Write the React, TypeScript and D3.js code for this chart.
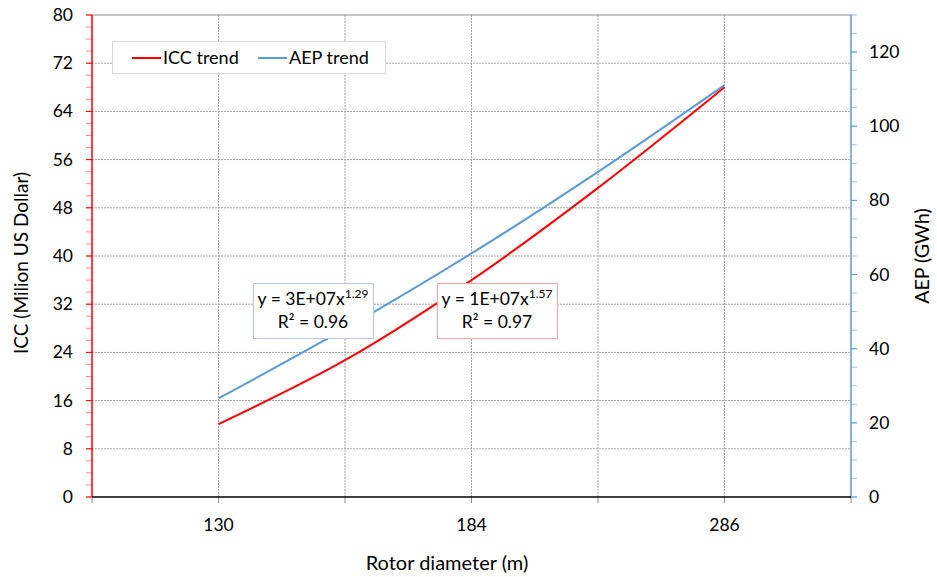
import React from "react";
import * as d3 from "d3";

const xIndex = [1, 2, 3, 4, 5];
const iccValues = [12.1, 22.7, 36.0, 51.3, 68.0];
const aepValues = [26.6, 45.4, 65.7, 87.7, 111.1];
const xTickPositions = [1, 3, 5];
const xTickLabels = ["130", "184", "286"];
const leftTicks = [0, 8, 16, 24, 32, 40, 48, 56, 64, 72, 80];
const rightTicks = [0, 20, 40, 60, 80, 100, 120];

const W = 937, H = 577;
const L = 92, R = 851, T = 15, B = 497;
const FONT = "Lato, 'Open Sans', sans-serif";
const RED = "#ff0000";
const BLUE = "#5b9bd5";

export default function App() {
  const x = d3.scaleLinear().domain([0, 6]).range([L, R]);
  const yL = d3.scaleLinear().domain([0, 80]).range([B, T]);
  const yR = d3.scaleLinear().domain([0, 130]).range([B, T]);

  const iccLine = d3
    .line<number>()
    .x((_, i) => x(xIndex[i]))
    .y((d) => yL(d))
    .curve(d3.curveCatmullRom.alpha(0.5));
  const aepLine = d3
    .line<number>()
    .x((_, i) => x(xIndex[i]))
    .y((d) => yR(d))
    .curve(d3.curveCatmullRom.alpha(0.5));

  const leftMinor = d3.range(0, 81, 2);
  const rightMinor = d3.range(0, 131, 5);
  const bottomTicks = d3.range(0, 7, 1);

  return (
    <svg width={W} height={H} style={{ position: "absolute", left: 0, top: 0, background: "#fff" }} fontFamily={FONT}>
      <rect x={0} y={0} width={W} height={H} fill="#fff" />
      {/* horizontal gridlines */}
      {leftTicks.filter((t) => t > 0 && t < 80).map((t) => (
        <line key={"hg" + t} x1={L} x2={R} y1={yL(t)} y2={yL(t)} stroke="#a6a6a6" strokeWidth={1} strokeDasharray="2,1" />
      ))}
      {/* vertical gridlines */}
      {[1, 2, 3, 4, 5].map((t) => (
        <line key={"vg" + t} x1={x(t)} x2={x(t)} y1={T} y2={B} stroke="#a6a6a6" strokeWidth={1} strokeDasharray="2,1" />
      ))}
      {/* top border */}
      <line x1={L} x2={R} y1={T} y2={T} stroke="#8c8c8c" strokeWidth={1} />

      {/* left axis */}
      {leftMinor.map((t) => (
        <line key={"lm" + t} x1={86} x2={L} y1={yL(t)} y2={yL(t)} stroke="#ff8c8c" strokeWidth={1} />
      ))}
      {leftTicks.map((t) => (
        <line key={"lt" + t} x1={86} x2={L} y1={yL(t)} y2={yL(t)} stroke={RED} strokeWidth={1} />
      ))}
      <line x1={L} x2={L} y1={T} y2={B} stroke={RED} strokeWidth={1.5} />
      {leftTicks.map((t) => (
        <text key={"ll" + t} x={73} y={yL(t) + 6} textAnchor="end" fontSize={17.5} fill="#000">{t}</text>
      ))}

      {/* right axis */}
      {rightMinor.map((t) => (
        <line key={"rm" + t} x1={R} x2={857} y1={yR(t)} y2={yR(t)} stroke="#9cc3e6" strokeWidth={1} />
      ))}
      {rightTicks.map((t) => (
        <line key={"rt" + t} x1={R} x2={857} y1={yR(t)} y2={yR(t)} stroke={BLUE} strokeWidth={1} />
      ))}
      <line x1={R} x2={R} y1={T} y2={B} stroke={BLUE} strokeWidth={1.5} />
      {rightTicks.map((t) => (
        <text key={"rl" + t} x={869} y={yR(t) + 6} textAnchor="start" fontSize={17.5} fill="#000">{t}</text>
      ))}

      {/* bottom axis */}
      {bottomTicks.map((t) => (
        <line key={"bt" + t} x1={x(t)} x2={x(t)} y1={B} y2={503} stroke="#8c8c8c" strokeWidth={1} />
      ))}
      <line x1={L} x2={R} y1={B} y2={B} stroke="#000" strokeWidth={1.5} />
      {xTickPositions.map((p, i) => (
        <text key={"xl" + i} x={x(p)} y={531} textAnchor="middle" fontSize={17.5} fill="#000">{xTickLabels[i]}</text>
      ))}

      {/* series */}
      <path d={aepLine(aepValues) || ""} fill="none" stroke={BLUE} strokeWidth={2} />
      <path d={iccLine(iccValues) || ""} fill="none" stroke={RED} strokeWidth={2} />

      {/* axis titles */}
      <text x={447} y={570} textAnchor="middle" fontSize={20} fill="#000">Rotor diameter (m)</text>
      <text transform={`translate(28,${263}) rotate(-90)`} textAnchor="middle" fontSize={19} fill="#000">ICC (Milion US Dollar)</text>
      <text transform={`translate(929,${256}) rotate(-90)`} textAnchor="middle" fontSize={19.5} fill="#000">AEP (GWh)</text>

      {/* legend */}
      <rect x={112.5} y={41.5} width={273} height={32} fill="#fff" stroke="#d9d9d9" strokeWidth={1} />
      <line x1={132} x2={161} y1={58} y2={58} stroke={RED} strokeWidth={2} />
      <text x={163} y={64} fontSize={18} fill="#000">ICC trend</text>
      <line x1={258} x2={287} y1={58} y2={58} stroke={BLUE} strokeWidth={2} />
      <text x={289} y={64} fontSize={18} fill="#000">AEP trend</text>

      {/* trendline labels */}
      <rect x={253.5} y={283.5} width={120} height={55} fill="#fff" stroke="#b4c7e7" strokeWidth={1} />
      <text x={313} y={305} textAnchor="middle" fontSize={17.5} fill="#000">
        y = 3E+07x<tspan fontSize={12} dy={-7}>1.29</tspan>
      </text>
      <text x={313} y={328} textAnchor="middle" fontSize={17.5} fill="#000">R² = 0.96</text>

      <rect x={437.5} y={283.5} width={120} height={55} fill="#fff" stroke="#f4a7a7" strokeWidth={1} />
      <text x={497} y={305} textAnchor="middle" fontSize={17.5} fill="#000">
        y = 1E+07x<tspan fontSize={12} dy={-7}>1.57</tspan>
      </text>
      <text x={497} y={328} textAnchor="middle" fontSize={17.5} fill="#000">R² = 0.97</text>
    </svg>
  );
}
